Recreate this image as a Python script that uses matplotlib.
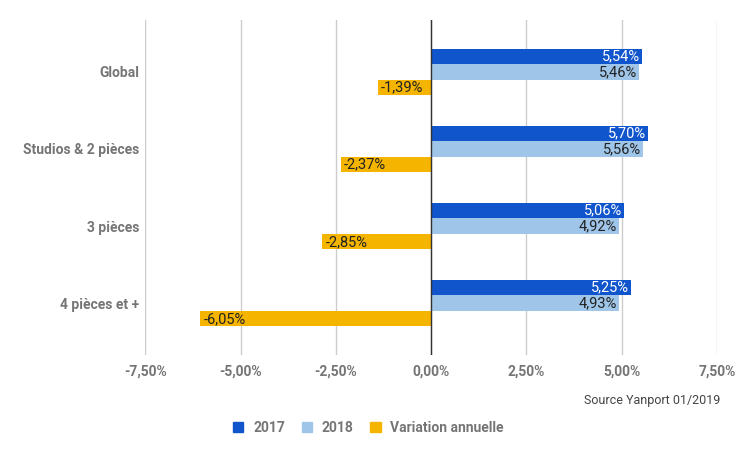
import matplotlib.pyplot as plt
from matplotlib.patches import Patch
import numpy as np

plt.rcParams['font.family'] = ['Roboto', 'DejaVu Sans']

categories = ['Global', 'Studios & 2 pièces', '3 pièces', '4 pièces et +']
v2017 = [5.54, 5.70, 5.06, 5.25]
v2018 = [5.46, 5.56, 4.92, 4.93]
variation = [-1.39, -2.37, -2.85, -6.05]
xticks = [-7.5, -5.0, -2.5, 0.0, 2.5, 5.0, 7.5]

series = [('2017', v2017, '#1155cc', 'white'),
          ('2018', v2018, '#9fc5e8', '#222222'),
          ('Variation annuelle', variation, '#f4b400', '#222222')]


def fmt(v):
    return ('%.2f%%' % v).replace('.', ',')


fig = plt.figure(figsize=(7.37, 4.54), dpi=100)
ax = fig.add_axes([0.197, 0.218, 0.776, 0.738])

y = np.arange(len(categories))
h = 0.205
for i, (name, vals, col, tcol) in enumerate(series):
    pos = y + (i - 1) * h
    ax.barh(pos, vals, height=h * 0.97, color=col, zorder=3)
    for p, v in zip(pos, vals):
        if v >= 0:
            ax.text(v - 0.06, p, fmt(v), ha='right', va='center',
                    color=tcol, fontsize=10.5, zorder=4)
        else:
            ax.text(v + 0.08, p, fmt(v), ha='left', va='center',
                    color=tcol, fontsize=10.5, zorder=4)

ax.set_xlim(-7.5, 7.5)
ax.set_ylim(3.675, -0.675)
ax.set_xticks(xticks)
ax.set_xticklabels([fmt(t) for t in xticks], color='#757575',
                   fontsize=10, fontweight='bold')
ax.set_yticks(y)
ax.set_yticklabels(categories, color='#757575', fontsize=10, fontweight='bold')
ax.tick_params(axis='x', length=0, pad=7)
ax.tick_params(axis='y', length=0, pad=4.5)
ax.xaxis.grid(True, color='#cccccc', lw=1, zorder=0)
ax.axvline(0, color='#333333', lw=1, zorder=5)
for s in ax.spines.values():
    s.set_visible(False)

fig.text(0.977, 0.118, 'Source Yanport 01/2019', ha='right', va='center',
         fontsize=9, color='#444444')

handles = [Patch(color=c, label=n) for n, _, c, _ in series]
leg = fig.legend(handles=handles, loc='center', bbox_to_anchor=(0.500, 0.058),
                 ncol=3, frameon=False, handlelength=0.75, handleheight=0.75,
                 columnspacing=1.2, handletextpad=0.7,
                 prop={'size': 10, 'weight': 'bold'})
for t in leg.get_texts():
    t.set_color('#757575')

fig.savefig('out.png', dpi=100)
